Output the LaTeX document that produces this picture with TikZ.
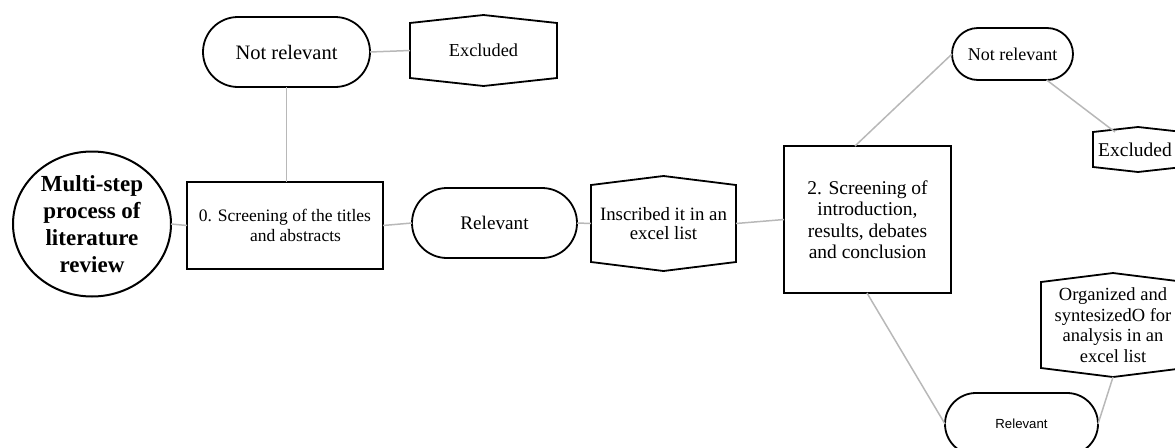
\documentclass[tikz,border=0pt]{standalone}
\usepackage{fontspec}
\setmainfont{Liberation Serif}
\newfontfamily\labelsans{Liberation Sans}
\usetikzlibrary{shapes.geometric,shapes.misc,calc}

\tikzset{
  shapeline/.style={draw=black, line width=1.8pt},
  link/.style={draw=black!28, line width=1.5pt},
  stadium/.style={rounded rectangle, shapeline, inner sep=0pt, outer sep=0pt, align=center},
  squarebox/.style={rectangle, shapeline, inner sep=0pt, outer sep=0pt, align=center},
  hexbox/.style={rectangle, inner sep=0pt, outer sep=0pt, align=center}
}
% outline of a hexagon around a hexbox node, with peaks of height #2
\newcommand\hexoutline[2]{%
  \draw[shapeline, line join=miter] (#1.north west) -- ([yshift=#2]#1.north) -- (#1.north east)
    -- (#1.south east) -- ([yshift=-#2]#1.south) -- (#1.south west) -- cycle;}

\begin{document}
\begin{tikzpicture}[x=1pt, y=-1pt]
\useasboundingbox (0,0) rectangle (1175,447);
\clip (0,0) rectangle (1175,447);

% main process
\node[ellipse, shapeline, line width=2pt, minimum width=158pt, minimum height=145pt, inner sep=0pt, outer sep=0pt, align=center,
      font=\fontsize{23}{27}\selectfont\bfseries] (lit) at (92,224)
      {Multi-step\\process of\\literature\\review};

\node[squarebox, minimum width=196pt, minimum height=87pt, font=\fontsize{17.5}{19.5}\selectfont] (s0) at (285,225.5)
      {0. Screening of the titles\\\hspace*{1.2em}and abstracts};

\node[stadium, minimum width=167pt, minimum height=70pt, font=\fontsize{20.5}{23}\selectfont] (nr1) at (286.5,52) {Not relevant};

\node[hexbox, minimum width=147pt, minimum height=55pt, font=\fontsize{18.3}{21}\selectfont] (ex1) at (483.5,50.5) {Excluded};
\hexoutline{ex1}{8}

\node[stadium, minimum width=165pt, minimum height=70pt, font=\fontsize{19.2}{22}\selectfont] (rel1) at (494.5,223) {Relevant};

\node[hexbox, minimum width=145pt, minimum height=77pt, font=\fontsize{18.8}{19.5}\selectfont] (ins) at (663.5,223.5)
      {Inscribed it in an\\excel list};
\hexoutline{ins}{9}

\node[squarebox, minimum width=167pt, minimum height=147pt, font=\fontsize{19.5}{21.5}\selectfont] (s2) at (867.5,219.5)
      {2. Screening of\\introduction,\\results, debates\\and conclusion};

\node[stadium, minimum width=121pt, minimum height=52pt, font=\fontsize{18}{21}\selectfont] (nr2) at (1012.5,54) {Not relevant};

\node[hexbox, minimum width=90pt, minimum height=35pt, font=\fontsize{19.5}{22}\selectfont] (ex2) at (1138,149.5) {\hspace*{-6pt}Excluded};
\hexoutline{ex2}{5}

\node[stadium, minimum width=153pt, minimum height=62pt, font=\labelsans\fontsize{13.2}{15}\selectfont] (rel2) at (1021.5,424) {Relevant};

\node[hexbox, minimum width=144pt, minimum height=86pt, font=\fontsize{18.5}{20.5}\selectfont] (org) at (1113,325)
      {Organized and\\syntesizedO for\\analysis in an\\excel list};
\hexoutline{org}{9}
\coordinate (orgpeak) at ([yshift=-9]org.south);

% connectors
\draw[link] (lit.east) -- (s0.west);
\draw[link] (nr1.south) -- (nr1.south |- s0.north);
\draw[link] (nr1.east) -- (ex1.west);
\draw[link] (s0.east) -- (rel1.west);
\draw[link] (rel1.east) -- (ins.west);
\draw[link] (ins.east) -- (s2.west);
\draw[link] ([xshift=-12.5pt]s2.north) -- (nr2.west);
\draw[link] (nr2) -- (ex2);
\draw[link] ([xshift=-0.5pt]s2.south) -- (rel2.west);
\draw[link] (rel2.east) -- (orgpeak);
\end{tikzpicture}
\end{document}
